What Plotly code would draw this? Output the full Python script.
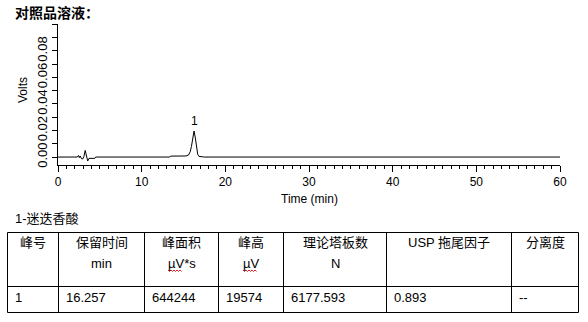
import plotly.graph_objects as go

# ---------------- data ----------------
time_min = [0, 2.3, 2.45, 2.55, 2.65, 2.8, 2.95, 3.1, 3.25, 3.4, 3.55, 3.7, 4.4, 4.5,
            13.3, 13.5, 15.3, 15.6, 15.8, 15.95, 16.1, 16.257, 16.4, 16.55, 16.7,
            16.85, 17.1, 17.5, 60]
volts = [0, 0, 0.0012, -0.0005, 0.0008, -0.0012, -0.0015, 0.0005, 0.0050, 0.0000,
         -0.0030, -0.0010, -0.0010, 0,
         0, 0.0007, 0.0008, 0.0015, 0.0040, 0.0080, 0.0145, 0.0196, 0.0150, 0.0070,
         0.0020, 0.0005, 0.0001, 0, 0]

peak_names = ["1"]
peak_times = [16.257]
peak_heights = [0.0196]

x_ticks = [0, 10, 20, 30, 40, 50, 60]
y_ticks = [0.00, 0.02, 0.04, 0.06, 0.08]
y_ticktext = ["0.00", "0.02", "0.04", "0.06", "0.08"]

title_text = "对照品溶液："
compound_text = "1-迷迭香酸"
table_headers = ["峰号", "保留时间", "峰面积", "峰高", "理论塔板数", "USP 拖尾因子", "分离度"]
table_units = ["", "min", "µV*s", "µV", "N", "", ""]
table_row = ["1", "16.257", "644244", "19574", "6177.593", "0.893", "--"]

# ---------------- layout geometry (pixels) ----------------
W, H = 588, 322
L, R, T, B = 58, 560, 24, 165


def px(x):
    return (x - L) / (R - L)


def py(y):
    return (B - y) / (B - T)


LATIN = "Liberation Sans, Arial, Noto Sans CJK SC"
CJK = "Liberation Sans, Noto Sans CJK SC"

fig = go.Figure()
fig.add_trace(go.Scatter(x=time_min, y=volts, mode="lines",
                         line=dict(color="black", width=1), hoverinfo="skip"))

fig.update_layout(
    width=W, height=H,
    margin=dict(l=L, r=W - R, t=T, b=H - B, pad=0),
    paper_bgcolor="white", plot_bgcolor="white", showlegend=False,
    font=dict(family=LATIN, size=12, color="black"),
)
fig.update_xaxes(
    range=[0, 60], tickmode="array", tickvals=x_ticks,
    ticks="outside", ticklen=6, tickcolor="black", tickwidth=1,
    showline=True, linecolor="black", linewidth=1, showgrid=False, zeroline=False,
    tickfont=dict(family=LATIN, size=12, color="black"),
    minor=dict(tickmode="linear", tick0=0, dtick=1, ticks="outside", ticklen=3,
               tickcolor="black", tickwidth=1, showgrid=False),
)
fig.update_yaxes(
    range=[-0.006, 0.1003], tickmode="array", tickvals=y_ticks, ticktext=y_ticktext,
    tickangle=-90, ticks="outside", ticklen=5, tickcolor="black", tickwidth=1,
    showline=True, linecolor="black", linewidth=1, showgrid=False, zeroline=False,
    tickfont=dict(family=LATIN, size=13, color="black"),
    minor=dict(tickmode="linear", tick0=0, dtick=0.01, ticks="outside", ticklen=5,
               tickcolor="black", tickwidth=1, showgrid=False),
)

ann = []
shapes = []

# peak labels
for n, t, h in zip(peak_names, peak_times, peak_heights):
    ann.append(dict(x=t, y=h, xref="x", yref="y", text=n, showarrow=False,
                    yanchor="bottom", yshift=1, font=dict(family=LATIN, size=12, color="black")))

# axis titles
ann.append(dict(x=px(23), y=py(90), xref="paper", yref="paper", text="Volts", textangle=-90,
                showarrow=False, xanchor="center", yanchor="middle",
                font=dict(family=LATIN, size=12, color="black")))
ann.append(dict(x=px(309), y=py(199), xref="paper", yref="paper", text="Time (min)",
                showarrow=False, xanchor="center", yanchor="middle",
                font=dict(family=LATIN, size=12, color="black")))

# title and compound name
ann.append(dict(x=px(13), y=py(12), xref="paper", yref="paper", text="<b>" + title_text + "</b>",
                showarrow=False, xanchor="left", yanchor="middle",
                font=dict(family="Noto Sans CJK SC", size=14, color="black")))
ann.append(dict(x=px(13), y=py(218), xref="paper", yref="paper", text=compound_text,
                showarrow=False, xanchor="left", yanchor="middle",
                font=dict(family=CJK, size=13, color="black")))

# table
col_x = [7.5, 58.5, 144.5, 218.5, 283.5, 386.5, 511.5, 578.5]
row_y = [232.5, 286.5, 312.5]
for y in row_y:
    shapes.append(dict(type="line", xref="paper", yref="paper",
                       x0=px(col_x[0]), x1=px(col_x[-1]), y0=py(y), y1=py(y),
                       line=dict(color="black", width=1)))
for x in col_x:
    shapes.append(dict(type="line", xref="paper", yref="paper",
                       x0=px(x), x1=px(x), y0=py(row_y[0]), y1=py(row_y[-1]),
                       line=dict(color="black", width=1)))

for i in range(len(table_headers)):
    cx = (col_x[i] + col_x[i + 1]) / 2
    ann.append(dict(x=px(cx), y=py(242.5), xref="paper", yref="paper", text=table_headers[i],
                    showarrow=False, xanchor="center", yanchor="middle",
                    font=dict(family=CJK, size=13, color="black")))
    if table_units[i]:
        ann.append(dict(x=px(cx), y=py(263), xref="paper", yref="paper", text=table_units[i],
                        showarrow=False, xanchor="center", yanchor="middle",
                        font=dict(family=LATIN, size=13, color="black")))
    ann.append(dict(x=px(col_x[i] + 5), y=py(297.5), xref="paper", yref="paper", text=table_row[i],
                    showarrow=False, xanchor="left", yanchor="middle",
                    font=dict(family=LATIN, size=13, color="black")))


# red wavy spell-check underlines under µV
def wavy(x0, x1, y):
    pts = []
    x = x0
    k = 0
    while x <= x1:
        yy = y if k % 2 == 0 else y + 1.5
        pts.append((px(x), py(yy)))
        x += 1.5
        k += 1
    return "M " + " L ".join(f"{a:.5f},{b:.5f}" for a, b in pts)


for (x0, x1) in [(168, 182), (243, 257)]:
    shapes.append(dict(type="path", xref="paper", yref="paper", path=wavy(x0, x1, 270),
                       line=dict(color="#e02020", width=1)))

fig.update_layout(annotations=ann, shapes=shapes)
fig.write_html("out.html")
